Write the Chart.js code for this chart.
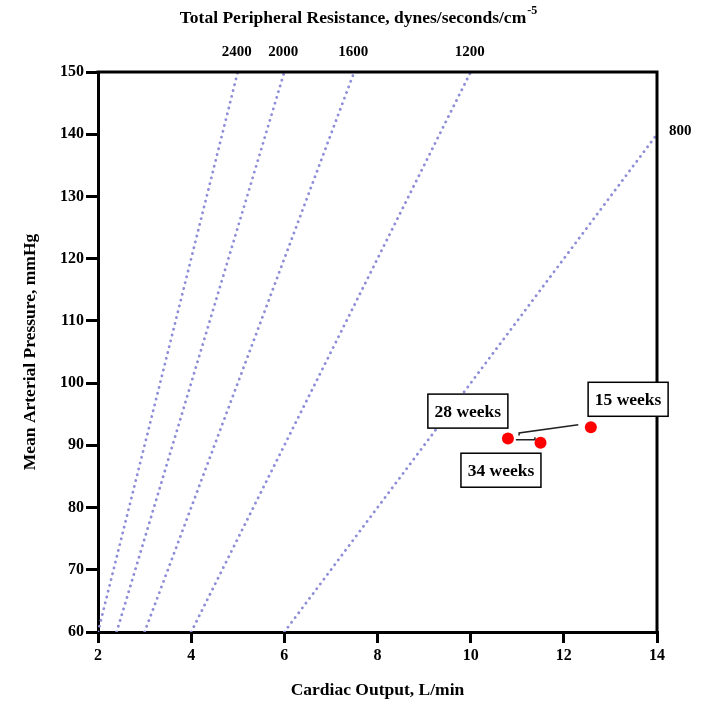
<!DOCTYPE html>
<html>
<head>
<meta charset="utf-8">
<script src="https://cdn.jsdelivr.net/npm/chart.js@4.4.1/dist/chart.umd.min.js"></script>
<style>
  html, body { margin: 0; padding: 0; background: #fff; }
</style>
</head>
<body>
<canvas id="chart" width="710" height="704"></canvas>
<script>
// measured points
const weeks = ['15 weeks', '28 weeks', '34 weeks'];
const cardiacOutput = [12.58, 10.8, 11.5];
const meanArterialPressure = [92.9, 91.1, 90.4];

// iso-resistance lines (start / end)
const resistanceLabels = ['2400', '2000', '1600', '1200', '800'];
const resistanceStartCO = [2, 2.4, 3, 4, 6];
const resistanceStartMAP = [60, 60, 60, 60, 60];
const resistanceEndCO = [5, 6, 7.5, 10, 14];
const resistanceEndMAP = [150, 150, 150, 150, 140];

// leader lines between labels and points
const leader1CO = [12.31, 11.04, 11.04];
const leader1MAP = [93.3, 92.0, 91.6];
const leader2CO = [10.97, 11.38, 11.38];
const leader2MAP = [90.9, 90.9, 91.3];

const xTicks = [2, 4, 6, 8, 10, 12, 14];
const yTicks = [60, 70, 80, 90, 100, 110, 120, 130, 140, 150];

const FONT = "'Liberation Serif', 'Times New Roman', serif";
const DOT = '#8d8dd8';

// where the boxed week labels sit (data units)
const boxAt = {
  '15 weeks': { x: 13.38, y: 97.4 },
  '28 weeks': { x: 9.94, y: 95.5 },
  '34 weeks': { x: 10.65, y: 86.0 },
};

const pts = (xs, ys) => xs.map((x, i) => ({ x: x, y: ys[i] }));

const datasets = [{
  label: 'weeks',
  data: pts(cardiacOutput, meanArterialPressure),
  showLine: false,
  pointRadius: 6,
  pointHoverRadius: 6,
  pointBackgroundColor: '#ff0000',
  pointBorderWidth: 0,
  order: 0,
}];

resistanceLabels.forEach((lab, i) => {
  datasets.push({
    label: lab,
    data: [
      { x: resistanceStartCO[i], y: resistanceStartMAP[i] },
      { x: resistanceEndCO[i], y: resistanceEndMAP[i] },
    ],
    showLine: true,
    borderColor: DOT,
    borderWidth: 2.8,
    borderDash: [0.1, 5.9],
    borderCapStyle: 'round',
    pointRadius: 0,
    order: 2,
  });
});

[[leader1CO, leader1MAP], [leader2CO, leader2MAP]].forEach(([xs, ys]) => {
  datasets.push({
    label: 'leader',
    data: pts(xs, ys),
    showLine: true,
    borderColor: '#222',
    borderWidth: 1.5,
    pointRadius: 0,
    order: 1,
  });
});

const decorations = {
  id: 'decorations',
  afterDatasetsDraw(chart) {
    const { ctx, chartArea, scales } = chart;
    const xs = scales.x, ys = scales.y;
    ctx.save();

    // top and right frame
    ctx.strokeStyle = '#000';
    ctx.lineWidth = 3;
    ctx.beginPath();
    ctx.moveTo(chartArea.left - 1.5, chartArea.top);
    ctx.lineTo(chartArea.right, chartArea.top);
    ctx.lineTo(chartArea.right, chartArea.bottom + 1.5);
    ctx.stroke();

    // resistance labels at the ends of the lines
    ctx.fillStyle = '#000';
    ctx.font = 'bold 15px ' + FONT;
    ctx.textBaseline = 'middle';
    resistanceLabels.forEach((lab, i) => {
      const px = xs.getPixelForValue(resistanceEndCO[i]);
      const py = ys.getPixelForValue(resistanceEndMAP[i]);
      if (resistanceEndMAP[i] >= 150) {
        ctx.textAlign = 'center';
        ctx.fillText(lab, px - 1, py - 20);
      } else {
        ctx.textAlign = 'left';
        ctx.fillText(lab, px + 12, py - 3);
      }
    });

    // top title with superscript
    const main = 'Total Peripheral Resistance, dynes/seconds/cm';
    const sup = '-5';
    ctx.font = 'bold 17.5px ' + FONT;
    const w1 = ctx.measureText(main).width;
    ctx.font = 'bold 12px ' + FONT;
    const w2 = ctx.measureText(sup).width;
    const startX = 358 - (w1 + w2) / 2;
    ctx.textAlign = 'left';
    ctx.font = 'bold 17.5px ' + FONT;
    ctx.fillText(main, startX, 18);
    ctx.font = 'bold 12px ' + FONT;
    ctx.fillText(sup, startX + w1 + 1, 11);

    // boxed week labels
    ctx.font = 'bold 17.5px ' + FONT;
    ctx.textAlign = 'center';
    weeks.forEach((wk) => {
      const pos = boxAt[wk];
      const cx = xs.getPixelForValue(pos.x);
      const cy = ys.getPixelForValue(pos.y);
      const bw = 80, bh = 34;
      ctx.fillStyle = '#fff';
      ctx.fillRect(cx - bw / 2, cy - bh / 2, bw, bh);
      ctx.strokeStyle = '#000';
      ctx.lineWidth = 1.5;
      ctx.strokeRect(cx - bw / 2, cy - bh / 2, bw, bh);
      ctx.fillStyle = '#000';
      ctx.fillText(wk, cx, cy + 1);
    });

    ctx.restore();
  }
};

new Chart(document.getElementById('chart'), {
  type: 'scatter',
  data: { datasets: datasets },
  plugins: [decorations],
  options: {
    responsive: false,
    animation: false,
    layout: { padding: { left: 0, right: 53, top: 72, bottom: 0 } },
    plugins: { legend: { display: false }, tooltip: { enabled: false } },
    scales: {
      x: {
        type: 'linear',
        min: 2, max: 14,
        afterFit: (s) => { s.height = 72; },
        afterBuildTicks: (s) => { s.ticks = xTicks.map(v => ({ value: v })); },
        ticks: { color: '#000', font: { family: FONT, size: 16, weight: 'bold' }, padding: 3 },
        grid: { display: true, drawOnChartArea: false, drawTicks: true, tickLength: 11, lineWidth: 3, color: '#000' },
        border: { display: true, width: 3, color: '#000' },
        title: {
          display: true, text: 'Cardiac Output, L/min', color: '#000',
          font: { family: FONT, size: 17.5, weight: 'bold' }, padding: { top: 0, bottom: 3.5 }
        }
      },
      y: {
        type: 'linear',
        min: 60, max: 150,
        afterFit: (s) => { s.width = 98; },
        afterBuildTicks: (s) => { s.ticks = yTicks.map(v => ({ value: v })); },
        ticks: { color: '#000', font: { family: FONT, size: 16, weight: 'bold' }, padding: 2 },
        grid: { display: true, drawOnChartArea: false, drawTicks: true, tickLength: 12, lineWidth: 3, color: '#000' },
        border: { display: true, width: 3, color: '#000' },
        title: {
          display: true, text: 'Mean Arterial Pressure, mmHg', color: '#000',
          font: { family: FONT, size: 17.5, weight: 'bold' }, padding: { top: 19.5, bottom: 0 }
        }
      }
    }
  }
});
</script>
</body>
</html>
